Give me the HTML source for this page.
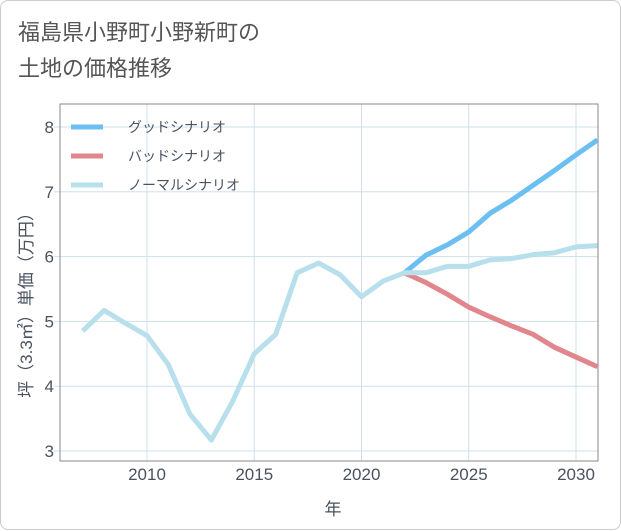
<!DOCTYPE html>
<html><head><meta charset="utf-8"><style>
body{margin:0;background:#fff;font-family:"Liberation Sans","Noto Sans CJK JP",sans-serif;}
.card{position:absolute;left:0;top:0;width:619px;height:528px;border:1px solid #ccc;border-radius:8px;background:#fff;}
.title{position:absolute;left:17px;top:14px;font-size:22px;line-height:36px;color:#555;}
</style></head><body>
<div class="card">
<div class="title">福島県小野町小野新町の<br>土地の価格推移</div>
<svg id="chart" width="621" height="530" style="position:absolute;left:0;top:0"></svg>
</div>
<script>
const years=[2007,2008,2009,2010,2011,2012,2013,2014,2015,2016,2017,2018,2019,2020,2021,2022,2023,2024,2025,2026,2027,2028,2029,2030,2031];
const normal=[4.85,5.17,4.97,4.78,4.33,3.57,3.17,3.77,4.5,4.8,5.75,5.9,5.72,5.38,5.62,5.75,5.75,5.85,5.85,5.95,5.97,6.03,6.06,6.15,6.17];
const futureYears=[2022,2023,2024,2025,2026,2027,2028,2029,2030,2031];
const good=[5.75,6.02,6.18,6.38,6.67,6.87,7.1,7.33,7.57,7.8];
const bad=[5.75,5.6,5.42,5.22,5.07,4.93,4.8,4.6,4.45,4.3];
const xTicks=[2010,2015,2020,2025,2030];
const yTicks=[3,4,5,6,7,8];
const L=59,R=597,T=103,B=460;
const x=v=>146+(v-2010)*21.45;
const y=v=>126+(8-v)*64.8;
const svg=document.getElementById('chart');
const NS='http://www.w3.org/2000/svg';
function mk(t,a){const e=document.createElementNS(NS,t);for(const k in a)e.setAttribute(k,a[k]);svg.appendChild(e);return e;}
xTicks.forEach(t=>{
 const g=mk('line',{x1:x(t),x2:x(t),y1:T,y2:B,stroke:'#cfe0ea'});
 
 
 const l=mk('text',{x:x(t),y:479,'text-anchor':'middle','font-size':17,fill:'#4a5260'});l.textContent=t;
 
 
});
yTicks.forEach(t=>{
 const g=mk('line',{x1:L-6,x2:R,y1:y(t),y2:y(t),stroke:'#cfe0ea'});
 
 
 const l=mk('text',{x:53,y:y(t)+6,'text-anchor':'end','font-size':17,fill:'#4a5260'});l.textContent=t;
 
 
});
const bg=mk('rect',{x:L,y:T,width:R-L,height:B-T,fill:'none',stroke:'#888','stroke-width':1});


const cp=mk('clipPath',{id:'cp'});
const cr=document.createElementNS(NS,'rect');cr.setAttribute('x',L);cr.setAttribute('y',T);cr.setAttribute('width',R-L);cr.setAttribute('height',B-T);cp.appendChild(cr);
function line(xs,vs,c,name){
 const p=mk('polyline',{points:xs.map((v,i)=>x(v)+','+y(vs[i])).join(' '),fill:'none',stroke:c,'stroke-width':5,'stroke-linejoin':'round','clip-path':'url(#cp)'});
 
 
}
line(futureYears,good,'#6bbff2','good-scenario-line');
line(futureYears,bad,'#e0868c','bad-scenario-line');
line(years,normal,'#b7dfec','normal-scenario-line');
const leg=[['グッドシナリオ','#6bbff2'],['バッドシナリオ','#e0868c'],['ノーマルシナリオ','#b7dfec']];
leg.forEach((d,i)=>{
 const yy=126+i*29;
 const s=mk('line',{x1:70,x2:102,y1:yy,y2:yy,stroke:d[1],'stroke-width':5});
 
 
 const t=mk('text',{x:127,y:yy+5,'font-size':14,fill:'#4a5260'});t.textContent=d[0];
 
 
});
const xt=mk('text',{x:332,y:514,'text-anchor':'middle','font-size':17,fill:'#4a5260'});xt.textContent='年';


const yt=mk('text',{x:0,y:0,'text-anchor':'middle','font-size':17,fill:'#4a5260',transform:'translate(31,300) rotate(-90)'});yt.textContent='坪（3.3㎡）単価（万円）';


</script>
</body></html>
